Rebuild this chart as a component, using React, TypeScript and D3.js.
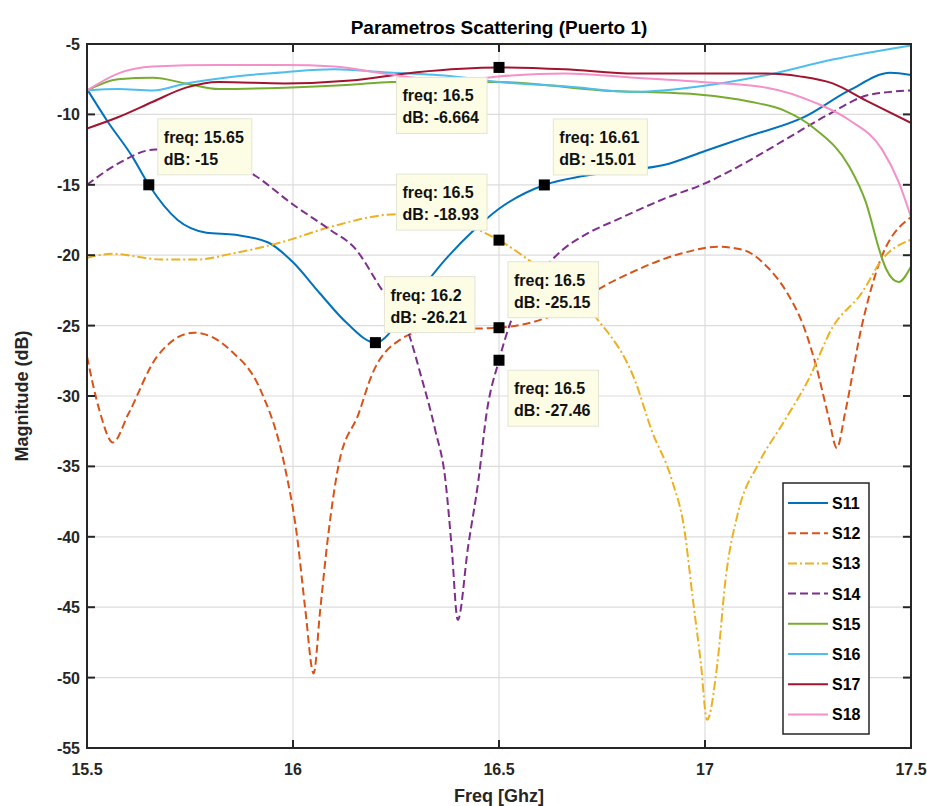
import React, { useEffect, useRef } from "react";
import * as d3 from "d3";

// Frequency sweep (GHz) and magnitude (dB) for each scattering parameter
const s11Freq = [15.5, 15.55, 15.61, 15.65, 15.72, 15.79, 15.86, 15.94, 16.0, 16.065, 16.13, 16.2, 16.29, 16.37, 16.44, 16.5, 16.61, 16.7, 16.8, 16.9, 17.0, 17.1, 17.24, 17.35, 17.45, 17.5];
const s11Db = [-8.2, -10.5, -13.0, -15, -17.5, -18.4, -18.55, -19.1, -20.5, -22.7, -24.8, -26.21, -23.2, -20.3, -18.2, -16.7, -15.01, -14.4, -14.0, -13.6, -12.6, -11.6, -10.2, -8.3, -7.05, -7.2];

const s12Freq = [15.5, 15.53, 15.563, 15.6, 15.67, 15.76, 15.85, 15.92, 15.98, 16.01, 16.03, 16.05, 16.066, 16.085, 16.11, 16.16, 16.19, 16.26, 16.33, 16.5, 16.62, 16.78, 16.94, 17.03, 17.09, 17.15, 17.2, 17.24, 17.27, 17.3, 17.32, 17.34, 17.38, 17.42, 17.5];
const s12Db = [-27.2, -31, -33.3, -31.3, -27.2, -25.5, -26.8, -29.5, -35, -40, -45.2, -49.7, -45.2, -40, -35, -31.2, -28.6, -26, -25.3, -25.15, -24.4, -21.8, -19.9, -19.4, -19.6, -20.8, -22.7, -25.1, -27.9, -31.5, -33.7, -31.2, -25.1, -20.8, -17.3];

const s13Freq = [15.5, 15.56, 15.68, 15.77, 15.85, 15.97, 16.09, 16.25, 16.35, 16.45, 16.5, 16.57, 16.65, 16.74, 16.83, 16.87, 16.92, 16.95, 16.97, 16.99, 17.005, 17.03, 17.05, 17.08, 17.13, 17.19, 17.25, 17.31, 17.38, 17.43, 17.5];
const s13Db = [-20.2, -19.9, -20.3, -20.3, -19.9, -19.1, -18.0, -17.1, -17.1, -18.2, -18.93, -20.3, -22.2, -24.6, -28.9, -32.4, -36, -39.5, -44.3, -49, -53, -49, -43, -38.3, -34.8, -31.9, -28.9, -25.1, -22.7, -20.3, -18.9];

const s14Freq = [15.5, 15.575, 15.665, 15.75, 15.83, 15.9, 16.0, 16.09, 16.15, 16.21, 16.28, 16.31, 16.345, 16.37, 16.385, 16.4, 16.425, 16.45, 16.47, 16.5, 16.53, 16.6, 16.655, 16.7, 16.8, 16.9, 17.0, 17.1, 17.2, 17.3, 17.4, 17.5];
const s14Db = [-15, -13.5, -12.5, -12.6, -13.2, -14.2, -16.4, -18.2, -19.5, -22.2, -25.5, -28.5, -32.4, -36, -40.7, -45.9, -40.7, -36, -31.2, -27.46, -24.6, -21.3, -19.6, -18.7, -17.3, -16.0, -14.9, -13.4, -11.7, -10.0, -8.6, -8.3];

const s15Freq = [15.5, 15.575, 15.66, 15.74, 15.82, 15.98, 16.14, 16.24, 16.5, 16.75, 16.99, 17.11, 17.19, 17.27, 17.35, 17.39, 17.425, 17.44, 17.47, 17.5];
const s15Db = [-8.3, -7.5, -7.4, -7.8, -8.2, -8.1, -7.9, -7.7, -7.7, -8.3, -8.6, -9.1, -9.7, -11.1, -13.7, -16.2, -19.8, -21.0, -21.9, -20.8];

const s16Freq = [15.5, 15.575, 15.66, 15.74, 15.86, 15.98, 16.1, 16.22, 16.39, 16.5, 16.66, 16.83, 16.99, 17.15, 17.31, 17.5];
const s16Db = [-8.3, -8.2, -8.3, -7.8, -7.3, -7.0, -6.8, -7.0, -7.3, -7.7, -8.0, -8.4, -8.0, -7.2, -6.1, -5.1];

const s17Freq = [15.5, 15.575, 15.66, 15.74, 15.82, 15.98, 16.14, 16.3, 16.5, 16.66, 16.83, 16.99, 17.15, 17.23, 17.31, 17.39, 17.5];
const s17Db = [-11, -10.2, -9.1, -8.1, -7.7, -7.8, -7.6, -7.0, -6.664, -6.8, -7.1, -7.1, -7.1, -7.3, -7.8, -9.0, -10.6];

const s18Freq = [15.5, 15.575, 15.66, 15.82, 15.98, 16.1, 16.22, 16.39, 16.5, 16.66, 16.83, 16.99, 17.15, 17.27, 17.35, 17.43, 17.47, 17.5];
const s18Db = [-8.3, -7.1, -6.6, -6.5, -6.5, -6.6, -7.1, -7.6, -7.3, -7.1, -7.4, -7.7, -8.1, -9.2, -10.4, -12.5, -14.8, -17.3];

const seriesNames = ["S11", "S12", "S13", "S14", "S15", "S16", "S17", "S18"];
const seriesFreqs = [s11Freq, s12Freq, s13Freq, s14Freq, s15Freq, s16Freq, s17Freq, s18Freq];
const seriesDbs = [s11Db, s12Db, s13Db, s14Db, s15Db, s16Db, s17Db, s18Db];
const seriesColors = ["#0072BD", "#D95319", "#EDB120", "#7E2F8E", "#77AC30", "#4DBEEE", "#A2142F", "#F590C8"];
const seriesDash = ["", "8,4", "9,3,2,3", "8,4", "", "", "", ""];

// Data cursors: series name, frequency, magnitude
const tipSeries = ["S11", "S17", "S11", "S13", "S11", "S12", "S14"];
const tipFreq = [15.65, 16.5, 16.61, 16.5, 16.2, 16.5, 16.5];
const tipDb = [-15, -6.664, -15.01, -18.93, -26.21, -25.15, -27.46];
// Box placement around each cursor: "ur" upper-right, "ul" upper-left, "ll" lower-left, "lr" lower-right
const tipPlacement = ["ur", "ll", "ur", "ul", "ur", "ur", "lr"];

const xTicks = [15.5, 16, 16.5, 17, 17.5];
const yTicks = [-5, -10, -15, -20, -25, -30, -35, -40, -45, -50, -55];

const W = 927;
const H = 806;
const M = { left: 87, right: 911, top: 44, bottom: 748 };
const FONT = "'Liberation Sans', Arial, Helvetica, sans-serif";

export default function App() {
  const ref = useRef<SVGSVGElement | null>(null);

  useEffect(() => {
    const svg = d3.select(ref.current);
    svg.selectAll("*").remove();

    const x = d3.scaleLinear().domain([15.5, 17.5]).range([M.left, M.right]);
    const y = d3.scaleLinear().domain([-55, -5]).range([M.bottom, M.top]);

    svg.append("rect").attr("width", W).attr("height", H).attr("fill", "#ffffff");

    const defs = svg.append("defs");
    defs
      .append("clipPath")
      .attr("id", "plotClip")
      .append("rect")
      .attr("x", M.left)
      .attr("y", M.top)
      .attr("width", M.right - M.left)
      .attr("height", M.bottom - M.top);

    // Grid
    const grid = svg.append("g");
    xTicks.forEach((t) => {
      grid
        .append("line")
        .attr("x1", x(t))
        .attr("x2", x(t))
        .attr("y1", M.top)
        .attr("y2", M.bottom)
        .attr("stroke", "#dcdcdc")
        .attr("stroke-width", 1.2);
    });
    yTicks.forEach((t) => {
      grid
        .append("line")
        .attr("x1", M.left)
        .attr("x2", M.right)
        .attr("y1", y(t))
        .attr("y2", y(t))
        .attr("stroke", "#dcdcdc")
        .attr("stroke-width", 1.2);
    });

    // Curves
    const line = d3
      .line<[number, number]>()
      .x((d) => x(d[0]))
      .y((d) => y(d[1]))
      .curve(d3.curveMonotoneX);

    const curves = svg.append("g").attr("clip-path", "url(#plotClip)");
    seriesNames.forEach((name, i) => {
      const pts: [number, number][] = seriesFreqs[i].map((f, j) => [f, seriesDbs[i][j]]);
      curves
        .append("path")
        .attr("d", line(pts) as string)
        .attr("fill", "none")
        .attr("stroke", seriesColors[i])
        .attr("stroke-width", 2)
        .attr("stroke-dasharray", seriesDash[i] || null)
        .attr("stroke-linejoin", "round");
    });

    // Axes box and inward ticks on all sides
    const axes = svg.append("g");
    const tickLen = 8;
    xTicks.forEach((t) => {
      axes.append("line").attr("x1", x(t)).attr("x2", x(t)).attr("y1", M.bottom).attr("y2", M.bottom - tickLen).attr("stroke", "#262626").attr("stroke-width", 2);
      axes.append("line").attr("x1", x(t)).attr("x2", x(t)).attr("y1", M.top).attr("y2", M.top + tickLen).attr("stroke", "#262626").attr("stroke-width", 2);
      axes
        .append("text")
        .attr("x", x(t))
        .attr("y", M.bottom + 27)
        .attr("text-anchor", "middle")
        .attr("font-family", FONT)
        .attr("font-weight", "bold")
        .attr("font-size", 16)
        .attr("fill", "#262626")
        .text(String(t));
    });
    yTicks.forEach((t) => {
      axes.append("line").attr("x1", M.left).attr("x2", M.left + tickLen).attr("y1", y(t)).attr("y2", y(t)).attr("stroke", "#262626").attr("stroke-width", 2);
      axes.append("line").attr("x1", M.right).attr("x2", M.right - tickLen).attr("y1", y(t)).attr("y2", y(t)).attr("stroke", "#262626").attr("stroke-width", 2);
      axes
        .append("text")
        .attr("x", M.left - 7)
        .attr("y", y(t) + 6)
        .attr("text-anchor", "end")
        .attr("font-family", FONT)
        .attr("font-weight", "bold")
        .attr("font-size", 16)
        .attr("fill", "#262626")
        .text(String(t));
    });
    axes
      .append("rect")
      .attr("x", M.left)
      .attr("y", M.top)
      .attr("width", M.right - M.left)
      .attr("height", M.bottom - M.top)
      .attr("fill", "none")
      .attr("stroke", "#262626")
      .attr("stroke-width", 2);

    // Title and axis labels
    svg
      .append("text")
      .attr("x", (M.left + M.right) / 2)
      .attr("y", 34)
      .attr("text-anchor", "middle")
      .attr("font-family", FONT)
      .attr("font-weight", "bold")
      .attr("font-size", 19)
      .attr("fill", "#000")
      .text("Parametros Scattering (Puerto 1)");
    svg
      .append("text")
      .attr("x", (M.left + M.right) / 2)
      .attr("y", 802)
      .attr("text-anchor", "middle")
      .attr("font-family", FONT)
      .attr("font-weight", "bold")
      .attr("font-size", 18)
      .attr("fill", "#262626")
      .text("Freq [Ghz]");
    svg
      .append("text")
      .attr("transform", `translate(28,${(M.top + M.bottom) / 2}) rotate(-90)`)
      .attr("text-anchor", "middle")
      .attr("font-family", FONT)
      .attr("font-weight", "bold")
      .attr("font-size", 18)
      .attr("fill", "#262626")
      .text("Magnitude (dB)");

    // Data cursors
    const tips = svg.append("g");
    tipSeries.forEach((s, i) => {
      const mx = x(tipFreq[i]);
      const my = y(tipDb[i]);
      const g = tips.append("g");
      const rect = g.append("rect");
      const t1 = g
        .append("text")
        .attr("font-family", FONT)
        .attr("font-weight", "bold")
        .attr("font-size", 16)
        .attr("fill", "#111")
        .text(`freq: ${tipFreq[i]}`);
      const t2 = g
        .append("text")
        .attr("font-family", FONT)
        .attr("font-weight", "bold")
        .attr("font-size", 16)
        .attr("fill", "#111")
        .text(`dB: ${tipDb[i]}`);
      const w1 = (t1.node() as SVGTextElement).getComputedTextLength();
      const w2 = (t2.node() as SVGTextElement).getComputedTextLength();
      const bw = Math.max(w1, w2) + 14;
      const bh = 56;
      const p = tipPlacement[i];
      const bx = p === "ur" || p === "lr" ? mx + 9 : mx - 12 - bw;
      const by = p === "ur" || p === "ul" ? my - 10 - bh : my + 10;
      rect
        .attr("x", bx)
        .attr("y", by)
        .attr("width", bw)
        .attr("height", bh)
        .attr("fill", "#fdfde6")
        .attr("stroke", "#e4e4d6")
        .attr("stroke-width", 1);
      t1.attr("x", bx + 6).attr("y", by + 24);
      t2.attr("x", bx + 6).attr("y", by + 46);
      g.append("rect")
        .attr("x", mx - 5.5)
        .attr("y", my - 5.5)
        .attr("width", 11)
        .attr("height", 11)
        .attr("fill", "#000");
    });

    // Legend
    const lg = svg.append("g");
    const lx = 783;
    const ly = 483;
    lg.append("rect")
      .attr("x", lx)
      .attr("y", ly)
      .attr("width", 86)
      .attr("height", 251)
      .attr("fill", "#fff")
      .attr("stroke", "#262626")
      .attr("stroke-width", 1.5);
    seriesNames.forEach((name, i) => {
      const yy = ly + 20 + i * 30.2;
      lg.append("line")
        .attr("x1", lx + 5)
        .attr("x2", lx + 45)
        .attr("y1", yy)
        .attr("y2", yy)
        .attr("stroke", seriesColors[i])
        .attr("stroke-width", 2)
        .attr("stroke-dasharray", seriesDash[i] || null);
      lg.append("text")
        .attr("x", lx + 49)
        .attr("y", yy + 6)
        .attr("font-family", FONT)
        .attr("font-weight", "bold")
        .attr("font-size", 16)
        .attr("fill", "#000")
        .text(name);
    });
  }, []);

  return (
    <svg
      ref={ref}
      width={W}
      height={H}
      style={{ position: "absolute", left: 0, top: 0, display: "block" }}
    />
  );
}
